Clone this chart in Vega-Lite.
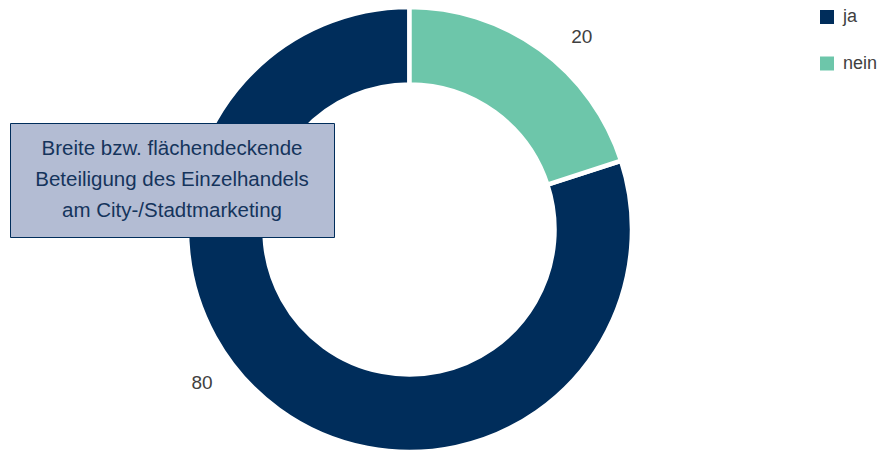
{
  "$schema": "https://vega.github.io/schema/vega-lite/v6.json",
  "width": 819,
  "height": 459,
  "padding": {"left": 0, "top": 0, "right": 63, "bottom": 0},
  "autosize": {"type": "none"},
  "background": "white",
  "config": {"view": {"stroke": null}, "font": "Liberation Sans"},
  "data": {"values": [
    {"Antwort": "ja", "Anteil": 80},
    {"Antwort": "nein", "Anteil": 20}
  ]},
  "layer": [
    {
      "mark": {"type": "arc", "outerRadius": 222.5, "innerRadius": 145, "stroke": "white", "strokeWidth": 4.5},
      "encoding": {
        "theta": {"field": "Anteil", "type": "quantitative", "stack": true},
        "order": {"field": "Antwort", "sort": "descending"},
        "color": {
          "field": "Antwort", "type": "nominal",
          "scale": {"domain": ["ja", "nein"], "range": ["#002d5b", "#6dc6aa"]},
          "legend": {
            "title": null, "orient": "none", "legendX": 818, "legendY": 8,
            "symbolType": "square", "symbolSize": 196, "symbolStrokeWidth": 0,
            "labelFontSize": 18, "labelColor": "#404040", "labelOffset": 7,
            "rowPadding": 28.5, "labelFont": "Liberation Sans"
          }
        }
      }
    },
    {
      "transform": [
        {"stack": "Anteil", "groupby": [], "sort": [{"field": "Antwort", "order": "descending"}], "as": ["s0", "s1"]},
        {"filter": "datum.Antwort == 'nein'"}
      ],
      "mark": {"type": "text", "radius": 258, "thetaOffset": 0.731, "fontSize": 19, "color": "#404040"},
      "encoding": {
        "theta": {"field": "s0", "type": "quantitative", "stack": null},
        "text": {"field": "Anteil", "type": "quantitative"}
      }
    },
    {
      "transform": [
        {"stack": "Anteil", "groupby": [], "sort": [{"field": "Antwort", "order": "descending"}], "as": ["s0", "s1"]},
        {"filter": "datum.Antwort == 'ja'"}
      ],
      "mark": {"type": "text", "radius": 258, "thetaOffset": 2.819, "fontSize": 19, "color": "#404040"},
      "encoding": {
        "theta": {"field": "s0", "type": "quantitative", "stack": null},
        "text": {"field": "Anteil", "type": "quantitative"}
      }
    },
    {
      "data": {"values": [{"Titel": "Breite bzw. flächendeckende\nBeteiligung des Einzelhandels\nam City-/Stadtmarketing"}]},
      "mark": {"type": "rect", "x": 10.5, "x2": 334.5, "y": 123.5, "y2": 237.5, "fill": "#b3bcd3", "stroke": "#002d5b", "strokeWidth": 1},
      "encoding": {}
    },
    {
      "data": {"values": [{"Titel": "Breite bzw. flächendeckende\nBeteiligung des Einzelhandels\nam City-/Stadtmarketing"}]},
      "mark": {"type": "text", "x": 172, "y": 149, "lineBreak": "\n", "lineHeight": 31, "fontSize": 20.5, "color": "#15345c", "align": "center", "baseline": "middle"},
      "encoding": {"text": {"field": "Titel"}}
    }
  ]
}
